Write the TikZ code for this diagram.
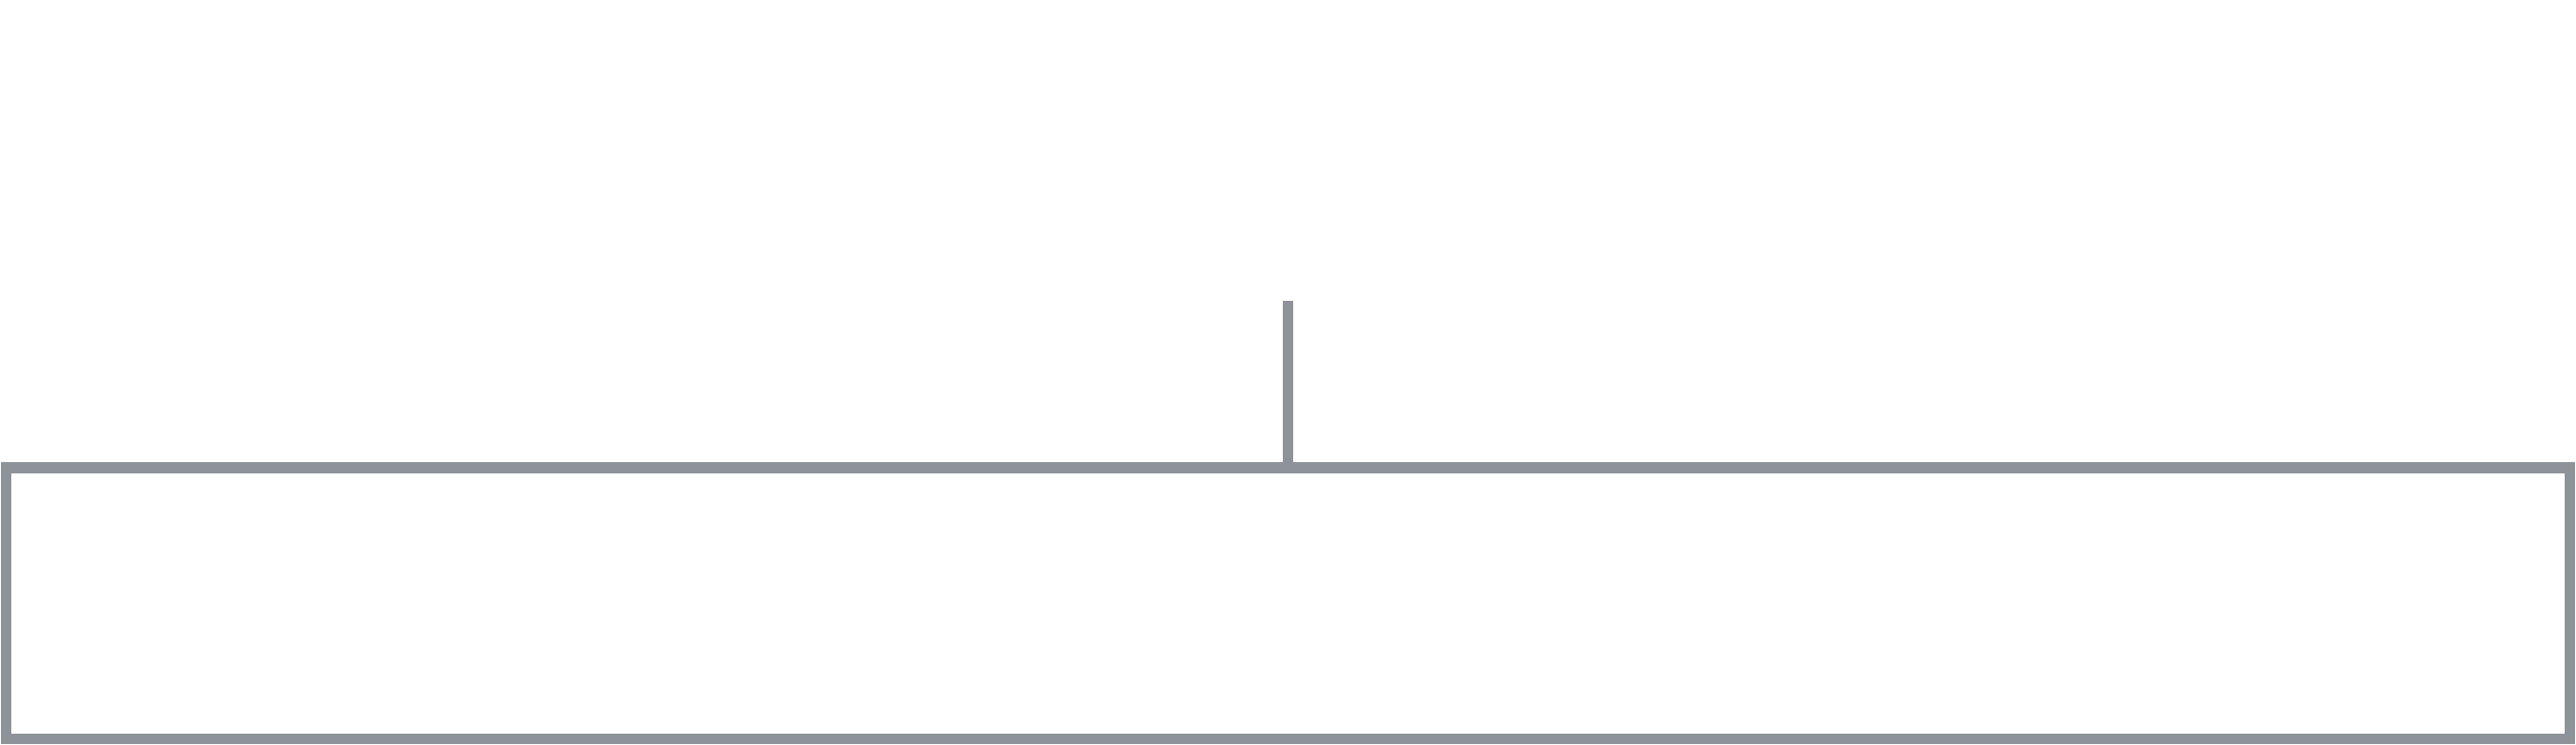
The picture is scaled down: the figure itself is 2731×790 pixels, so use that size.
\documentclass[tikz,border=0pt]{standalone}
\usepackage{tikz}
\definecolor{edgegrey}{HTML}{8E9299}
\tikzset{
  framebox/.style={draw=edgegrey, line width=2.875pt, fill=white, inner sep=0pt,
    minimum width=679.4pt, minimum height=71.9pt},
  stem/.style={draw=edgegrey, line width=2.8pt, line cap=butt}
}
\begin{document}
\begin{tikzpicture}[x=0.25pt,y=-0.25pt]
  \useasboundingbox (0,0) rectangle (2731,790);
  \node[framebox] (box) at (1365.5,639.85) {};
  \coordinate (stemtop) at (1365.7,319);
  \draw[stem] (stemtop) -- (stemtop |- box.north);
\end{tikzpicture}
\end{document}
